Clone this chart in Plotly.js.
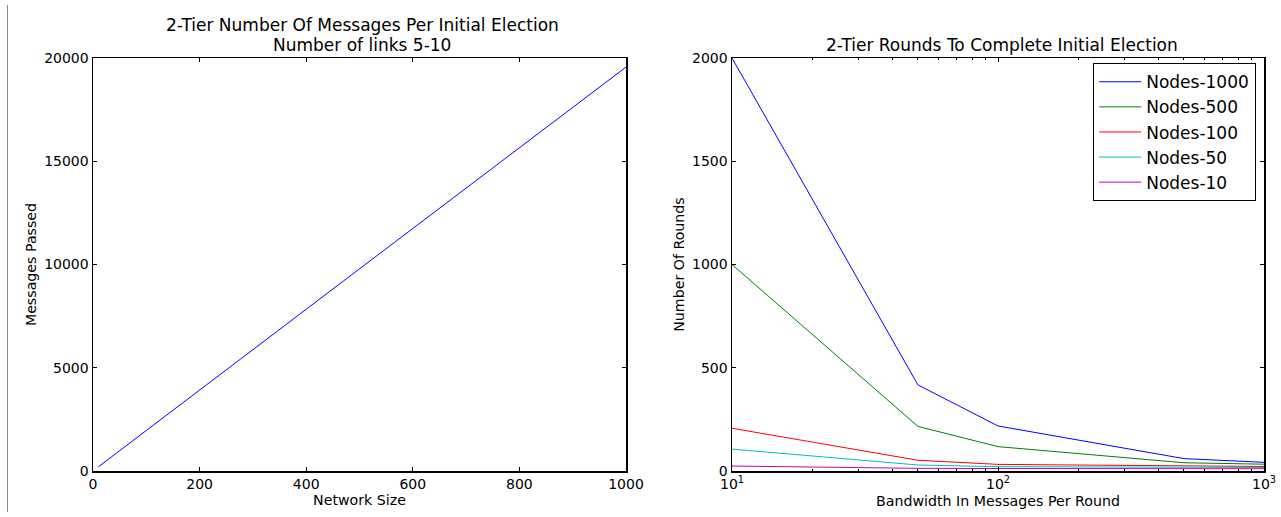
<!DOCTYPE html>
<html>
<head>
<meta charset="utf-8">
<script src="https://cdn.plot.ly/plotly-3.0.1.min.js"></script>
<style>html,body{margin:0;padding:0;background:#fff}#chart{width:1281px;height:517px}</style>
</head>
<body>
<div id="chart"></div>
<script>
// Left chart data
const networkSize = [10, 50, 100, 500, 1000];
const messagesPassed = [200, 980, 1960, 9790, 19560];

// Right chart data
const bandwidth = [10, 50, 100, 500, 1000];
const seriesNames = ['Nodes-1000', 'Nodes-500', 'Nodes-100', 'Nodes-50', 'Nodes-10'];
const nodes1000 = [2000, 417, 218, 60, 42];
const nodes500 = [1000, 216, 118, 40, 33];
const nodes100 = [207, 52, 32, 25, 22];
const nodes50 = [106, 29, 21, 18, 17];
const nodes10 = [24, 13, 12, 11, 11];
const seriesColors = ['#0000ff', '#008000', '#ff0000', '#00bfbf', '#bf00bf'];

// Tick labels
const leftXTicks = [0, 200, 400, 600, 800, 1000];
const leftYTicks = [0, 5000, 10000, 15000, 20000];
const leftYTickText = ['0', '5000', '10000', '15000', '20000'];
const rightXTickVals = [10, 100, 1000];
const rightXTickText = ['10<sup>1</sup>', '10<sup>2</sup>', '10<sup>3</sup>'];
const rightYTicks = [0, 500, 1000, 1500, 2000];

const FONT = 'DejaVu Sans, Liberation Sans, sans-serif';
const W = 1281, H = 517;
const mL = 93, mR = 17, mT = 58, mB = 46;
const pw = W - mL - mR, ph = H - mT - mB;
const px2x = p => (p - mL) / pw;
const px2y = p => (H - mB - p) / ph;

const rightSeries = [nodes1000, nodes500, nodes100, nodes50, nodes10];

const traces = [{
  x: networkSize, y: messagesPassed, type: 'scatter', mode: 'lines',
  line: {color: '#0000ff', width: 1}, showlegend: false, xaxis: 'x', yaxis: 'y'
}];
rightSeries.forEach((s, i) => {
  traces.push({
    x: bandwidth, y: s, type: 'scatter', mode: 'lines', name: seriesNames[i],
    line: {color: seriesColors[i], width: 1}, xaxis: 'x2', yaxis: 'y2'
  });
});

const minorVals = [];
[10, 100].forEach(d => { for (let k = 2; k <= 9; k++) minorVals.push(k * d); });

const titleFont = {family: FONT, size: 14.2, color: '#000'};
const axCommon = {
  showgrid: false, zeroline: false, showline: true, linecolor: '#000', linewidth: 1.5,
  mirror: 'ticks', ticks: 'inside', ticklen: 4, tickwidth: 1, tickcolor: '#000',
  tickfont: {family: FONT, size: 14, color: '#000'}
};

const layout = {
  width: W, height: H,
  margin: {l: mL, r: mR, t: mT, b: mB},
  paper_bgcolor: '#fff', plot_bgcolor: '#fff',
  font: {family: FONT, color: '#000'},
  showlegend: true,
  legend: {
    x: px2x(1256), xanchor: 'right', y: px2y(63), yanchor: 'top',
    bgcolor: '#fff', bordercolor: '#000', borderwidth: 1.2,
    font: {family: FONT, size: 17, color: '#000'},
    traceorder: 'normal', itemwidth: 42
  },
  xaxis: Object.assign({}, axCommon, {
    domain: [0, px2x(626)], range: [0, 1000], tickvals: leftXTicks,
    title: {text: 'Network Size', font: titleFont, standoff: 2},
    anchor: 'y'
  }),
  yaxis: Object.assign({}, axCommon, {
    domain: [0, 1], range: [0, 20000], tickvals: leftYTicks, ticktext: leftYTickText,
    title: {text: 'Messages Passed', font: titleFont, standoff: 4},
    anchor: 'x'
  }),
  xaxis2: Object.assign({}, axCommon, {
    domain: [px2x(732), 1], type: 'log', range: [1, 3],
    tickvals: rightXTickVals, ticktext: rightXTickText,
    minor: {tickvals: minorVals, ticks: 'inside', ticklen: 2, tickwidth: 1, tickcolor: '#000'},
    title: {text: 'Bandwidth In Messages Per Round', font: titleFont, standoff: 5},
    anchor: 'y2'
  }),
  yaxis2: Object.assign({}, axCommon, {
    domain: [0, 1], range: [0, 2000], tickvals: rightYTicks,
    title: {text: 'Number Of Rounds', font: titleFont, standoff: 4},
    anchor: 'x2'
  }),
  annotations: [
    {text: '2-Tier Number Of Messages Per Initial Election', xref: 'paper', yref: 'paper',
     x: px2x(362), y: px2y(25), xanchor: 'center', yanchor: 'middle', showarrow: false,
     font: {family: FONT, size: 17, color: '#000'}},
    {text: 'Number of links 5-10', xref: 'paper', yref: 'paper',
     x: px2x(362), y: px2y(44.5), xanchor: 'center', yanchor: 'middle', showarrow: false,
     font: {family: FONT, size: 17, color: '#000'}},
    {text: '2-Tier Rounds To Complete Initial Election', xref: 'paper', yref: 'paper',
     x: px2x(1002), y: px2y(44.5), xanchor: 'center', yanchor: 'middle', showarrow: false,
     font: {family: FONT, size: 17, color: '#000'}}
  ],
  shapes: [
    {type: 'line', xref: 'paper', yref: 'paper', x0: px2x(7.5), x1: px2x(7.5),
     y0: px2y(5), y1: px2y(512), line: {color: '#8a8a8a', width: 1}}
  ]
};

Plotly.newPlot('chart', traces, layout, {displayModeBar: false, staticPlot: true});
</script>
</body>
</html>
